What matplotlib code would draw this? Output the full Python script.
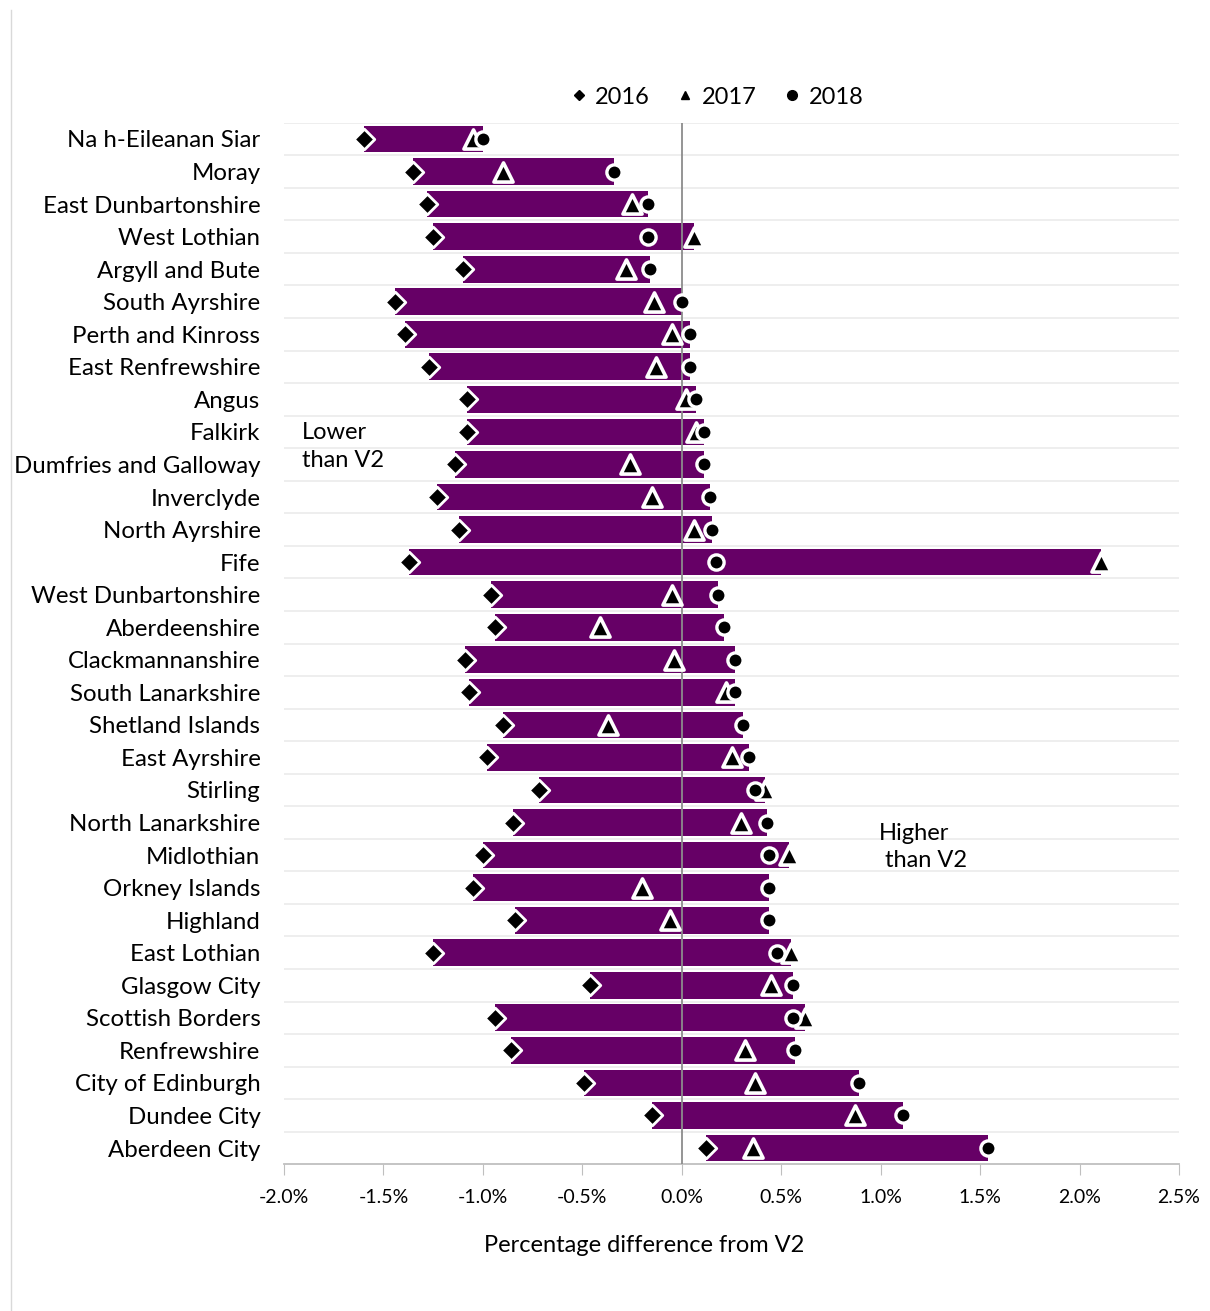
import numpy as np
import matplotlib
matplotlib.use("Agg")
from matplotlib import pyplot as plt
from matplotlib.lines import Line2D

plt.rcParams['font.family'] = ['Lato', 'DejaVu Sans']

areas = ["Na h-Eileanan Siar", "Moray", "East Dunbartonshire", "West Lothian",
         "Argyll and Bute", "South Ayrshire", "Perth and Kinross", "East Renfrewshire",
         "Angus", "Falkirk", "Dumfries and Galloway", "Inverclyde", "North Ayrshire",
         "Fife", "West Dunbartonshire", "Aberdeenshire", "Clackmannanshire",
         "South Lanarkshire", "Shetland Islands", "East Ayrshire", "Stirling",
         "North Lanarkshire", "Midlothian", "Orkney Islands", "Highland",
         "East Lothian", "Glasgow City", "Scottish Borders", "Renfrewshire",
         "City of Edinburgh", "Dundee City", "Aberdeen City"]

# percentage difference from V2
y2016 = [-1.60, -1.35, -1.28, -1.25, -1.10, -1.44, -1.39, -1.27, -1.08, -1.08,
         -1.14, -1.23, -1.12, -1.37, -0.96, -0.94, -1.09, -1.07, -0.90, -0.98,
         -0.72, -0.85, -1.00, -1.05, -0.84, -1.25, -0.46, -0.94, -0.86, -0.49,
         -0.15, 0.12]
y2017 = [-1.05, -0.90, -0.25, 0.06, -0.28, -0.14, -0.05, -0.13, 0.02, 0.07,
         -0.26, -0.15, 0.06, 2.11, -0.05, -0.41, -0.04, 0.22, -0.37, 0.25,
         0.42, 0.30, 0.54, -0.20, -0.06, 0.55, 0.45, 0.62, 0.32, 0.37,
         0.87, 0.36]
y2018 = [-1.00, -0.34, -0.17, -0.17, -0.16, 0.00, 0.04, 0.04, 0.07, 0.11,
         0.11, 0.14, 0.15, 0.17, 0.18, 0.21, 0.27, 0.27, 0.31, 0.34,
         0.37, 0.43, 0.44, 0.44, 0.44, 0.48, 0.56, 0.56, 0.57, 0.89,
         1.11, 1.54]

purple = "#660066"

fig = plt.figure(figsize=(12.10, 13.11), dpi=100)
ax = fig.add_axes([0.2347, 0.1119, 0.7397, 0.7945])

vals = np.array([y2016, y2017, y2018])
lo = vals.min(axis=0)
hi = vals.max(axis=0)
pos = np.arange(len(areas))

ax.barh(pos, hi - lo, left=lo, height=0.82, color=purple, zorder=2)

# horizontal gridlines between rows
for b in np.arange(-0.5, len(areas) - 0.5, 1.0):
    ax.axhline(b, color="#ebebeb", lw=1.2, zorder=1)
ax.axvline(0, color="#8c8c8c", lw=1.3, zorder=3)

ax.scatter(y2016, pos, marker="D", s=110, c="black", edgecolors="white", linewidths=2, zorder=4)
ax.scatter(y2017, pos, marker="^", s=190, c="black", edgecolors="white", linewidths=2.6, zorder=5)
ax.scatter(y2018, pos, marker="o", s=120, c="black", edgecolors="white", linewidths=2.4, zorder=6)

ax.set_xlim(-2.0, 2.5)
ax.set_ylim(len(areas) - 0.5, -0.5)
ax.set_xticks(np.arange(-2.0, 2.51, 0.5))
ax.set_xticklabels(["%.1f%%" % t for t in np.arange(-2.0, 2.51, 0.5)], fontsize=14)
ax.set_yticks(pos)
ax.set_yticklabels(areas, fontsize=17.3)
ax.tick_params(axis="y", length=0, pad=17)
ax.tick_params(axis="x", length=8, color="#bfbfbf", pad=10, direction="out")
for s in ["top", "right", "left"]:
    ax.spines[s].set_visible(False)
ax.spines["bottom"].set_color("#bfbfbf")
ax.spines["bottom"].set_linewidth(1.3)

fig.text(0.532, 0.0503, "Percentage difference from V2", fontsize=17, ha="center", va="center")

ax.text(-1.91, 9.45, "Lower\nthan V2", fontsize=17, ha="left", va="center", linespacing=1.4)
ax.text(0.99, 21.75, "Higher\n than V2", fontsize=17, ha="left", va="center", linespacing=1.4)

handles = [Line2D([], [], marker="D", ls="", color="black", markersize=5),
           Line2D([], [], marker="^", ls="", color="black", markersize=6),
           Line2D([], [], marker="o", ls="", color="black", markersize=7)]
fig.legend(handles, ["2016", "2017", "2018"], loc="center", bbox_to_anchor=(0.591, 0.926),
           ncol=3, frameon=False, fontsize=17, handletextpad=0.2, columnspacing=1.0,
           handlelength=1.0)

fig.add_artist(Line2D([0.009, 0.009], [0.0, 0.992], color="#d9d9d9", lw=1))

fig.savefig("out.png", dpi=100)
